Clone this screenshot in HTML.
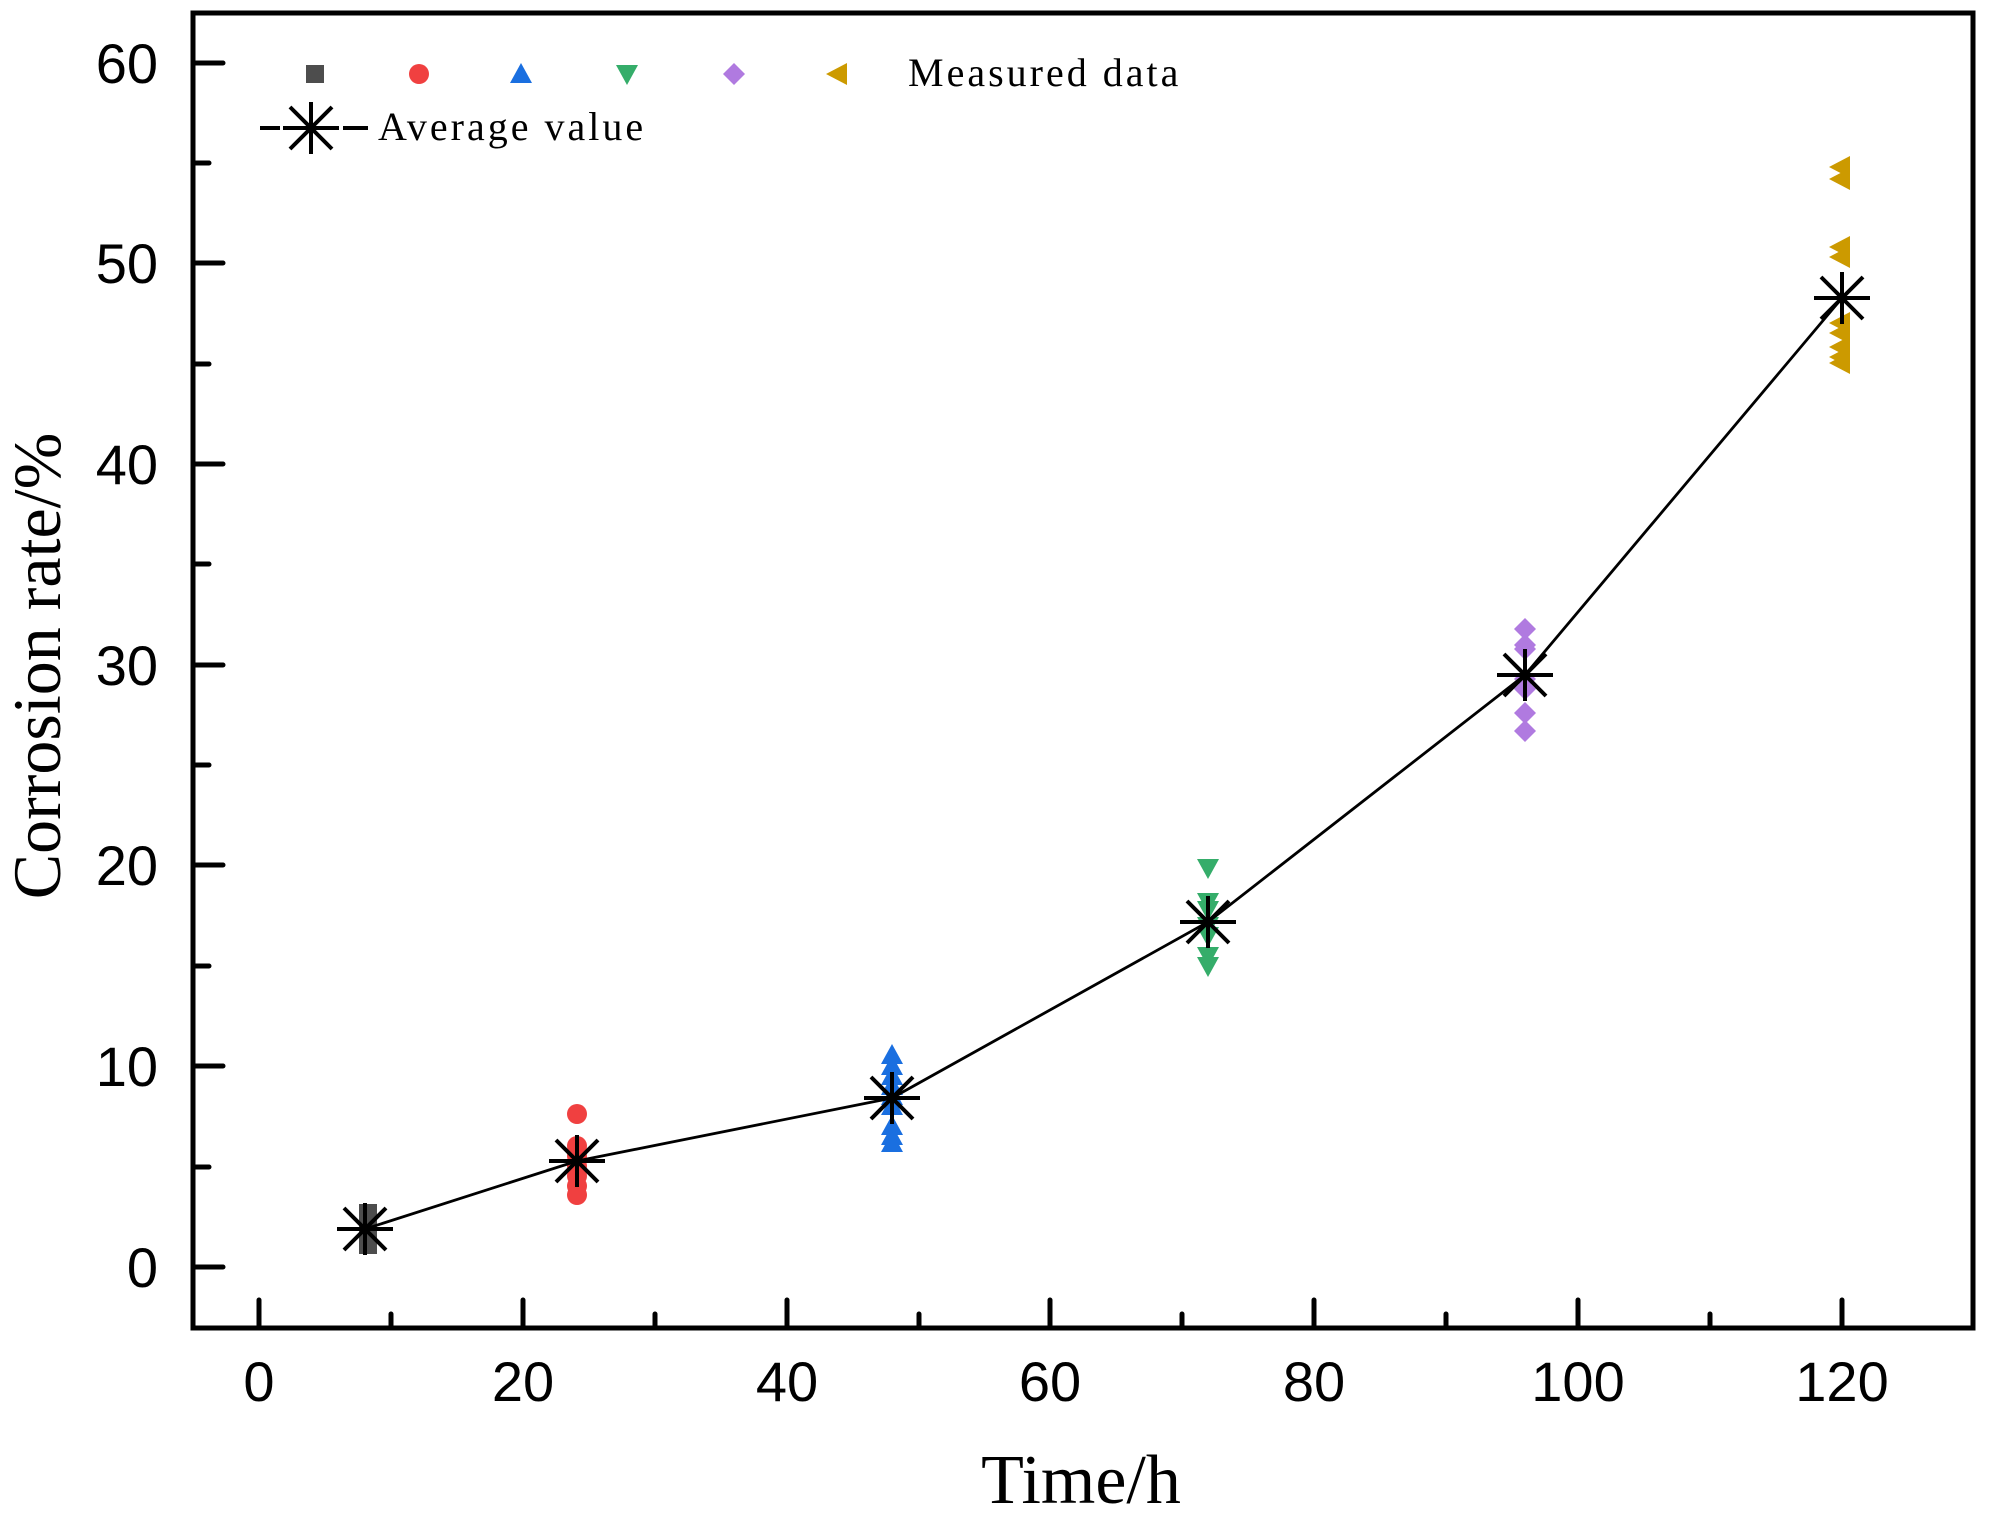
<!DOCTYPE html>
<html><head><meta charset="utf-8"><style>body{margin:0;background:#fff}svg{display:block}</style></head>
<body>
<svg width="1989" height="1515" viewBox="0 0 1989 1515" xmlns="http://www.w3.org/2000/svg">
<defs>
<g id="ast" stroke="#000" stroke-width="4" fill="none">
<line x1="-28" y1="0" x2="28" y2="0"/><line x1="0" y1="-26" x2="0" y2="26"/>
<line x1="-21" y1="-21" x2="21" y2="21"/><line x1="-21" y1="21" x2="21" y2="-21"/>
</g>
<rect id="sq" x="-9" y="-9" width="18" height="18" fill="#4d4d4d"/>
<circle id="ci" r="10" fill="#f04040"/>
<polygon id="tu" points="0,-11 11,9 -11,9" fill="#1a6fe0"/>
<polygon id="td" points="-11,-9 11,-9 0,11" fill="#35ad6a"/>
<polygon id="di" points="0,-11 11,0 0,11 -11,0" fill="#b07ae0"/>
<polygon id="tl" points="-12,0 9,-11 9,11" fill="#cc9a00"/>
</defs>
<g stroke="#000" stroke-width="5" fill="none">
<rect x="193" y="13" width="1780" height="1315"/>
</g>
<g stroke="#000" stroke-width="5" stroke-linecap="round">
<line x1="259" y1="1328" x2="259" y2="1300"/><line x1="391" y1="1328" x2="391" y2="1314"/>
<line x1="523" y1="1328" x2="523" y2="1300"/><line x1="655" y1="1328" x2="655" y2="1314"/>
<line x1="787" y1="1328" x2="787" y2="1300"/><line x1="919" y1="1328" x2="919" y2="1314"/>
<line x1="1050" y1="1328" x2="1050" y2="1300"/><line x1="1182" y1="1328" x2="1182" y2="1314"/>
<line x1="1314" y1="1328" x2="1314" y2="1300"/><line x1="1446" y1="1328" x2="1446" y2="1314"/>
<line x1="1578" y1="1328" x2="1578" y2="1300"/><line x1="1710" y1="1328" x2="1710" y2="1314"/>
<line x1="1842" y1="1328" x2="1842" y2="1300"/>
<line x1="193" y1="1267" x2="223" y2="1267"/><line x1="193" y1="1167" x2="209" y2="1167"/>
<line x1="193" y1="1066" x2="223" y2="1066"/><line x1="193" y1="966" x2="209" y2="966"/>
<line x1="193" y1="865" x2="223" y2="865"/><line x1="193" y1="765" x2="209" y2="765"/>
<line x1="193" y1="665" x2="223" y2="665"/><line x1="193" y1="564" x2="209" y2="564"/>
<line x1="193" y1="464" x2="223" y2="464"/><line x1="193" y1="364" x2="209" y2="364"/>
<line x1="193" y1="263" x2="223" y2="263"/><line x1="193" y1="163" x2="209" y2="163"/>
<line x1="193" y1="63" x2="223" y2="63"/>
</g>
<g font-family="Liberation Sans, Arial, sans-serif" font-size="56" fill="#000">
<g text-anchor="end">
<text x="158" y="1287">0</text><text x="158" y="1086">10</text><text x="158" y="885">20</text>
<text x="158" y="685">30</text><text x="158" y="484">40</text><text x="158" y="283">50</text><text x="158" y="83">60</text>
</g>
<g text-anchor="middle">
<text x="259" y="1401">0</text><text x="523" y="1401">20</text><text x="787" y="1401">40</text>
<text x="1050" y="1401">60</text><text x="1314" y="1401">80</text><text x="1578" y="1401">100</text><text x="1842" y="1401">120</text>
</g>
</g>
<g font-family="Liberation Serif, serif" fill="#000">
<text x="1081" y="1503" text-anchor="middle" font-size="70">Time/h</text>
<text transform="translate(60,666) rotate(-90)" text-anchor="middle" font-size="68">Corrosion rate/%</text>
<text x="908" y="86" font-size="40" letter-spacing="3">Measured data</text>
<text x="378" y="140" font-size="40" letter-spacing="3">Average value</text>
</g>
<use href="#sq" x="315" y="74"/><use href="#ci" x="419" y="74"/><use href="#tu" x="521" y="74"/>
<use href="#td" x="627" y="74"/><use href="#di" x="734" y="74"/><use href="#tl" x="838" y="74"/>
<g stroke="#000" stroke-width="4"><line x1="260" y1="128" x2="280" y2="128"/><line x1="343" y1="128" x2="368" y2="128"/></g>
<use href="#ast" x="311" y="128"/>
<rect x="359" y="1204" width="18" height="50" fill="#4d4d4d"/>
<g>
<use href="#ci" x="577" y="1114"/><use href="#ci" x="577" y="1146"/><use href="#ci" x="577" y="1156"/>
<use href="#ci" x="577" y="1166"/><use href="#ci" x="577" y="1176"/><use href="#ci" x="577" y="1186"/><use href="#ci" x="577" y="1195"/>
<use href="#tu" x="892" y="1055"/><use href="#tu" x="892" y="1066"/><use href="#tu" x="892" y="1076"/>
<use href="#tu" x="892" y="1086"/><use href="#tu" x="892" y="1096"/><use href="#tu" x="892" y="1106"/>
<use href="#tu" x="892" y="1126"/><use href="#tu" x="892" y="1136"/><use href="#tu" x="892" y="1143"/>
<use href="#td" x="1208" y="868"/><use href="#td" x="1208" y="902"/><use href="#td" x="1208" y="910"/>
<use href="#td" x="1208" y="926"/><use href="#td" x="1208" y="936"/><use href="#td" x="1208" y="956"/><use href="#td" x="1208" y="966"/>
<use href="#di" x="1525" y="629"/><use href="#di" x="1525" y="645"/><use href="#di" x="1525" y="649"/>
<use href="#di" x="1525" y="679"/><use href="#di" x="1525" y="689"/><use href="#di" x="1525" y="713"/><use href="#di" x="1525" y="731"/>
<use href="#tl" x="1841" y="167"/><use href="#tl" x="1841" y="179"/><use href="#tl" x="1841" y="247"/>
<use href="#tl" x="1841" y="257"/><use href="#tl" x="1841" y="323"/><use href="#tl" x="1841" y="333"/>
<use href="#tl" x="1841" y="347"/><use href="#tl" x="1841" y="357"/><use href="#tl" x="1841" y="363"/>
</g>
<polyline points="365,1229 577,1161 892,1098 1208,922 1525,675 1842,298" fill="none" stroke="#000" stroke-width="2.8"/>
<use href="#ast" x="365" y="1229"/><use href="#ast" x="577" y="1161"/><use href="#ast" x="892" y="1098"/>
<use href="#ast" x="1208" y="922"/><use href="#ast" x="1525" y="675"/><use href="#ast" x="1842" y="298"/>
</svg>
</body></html>
